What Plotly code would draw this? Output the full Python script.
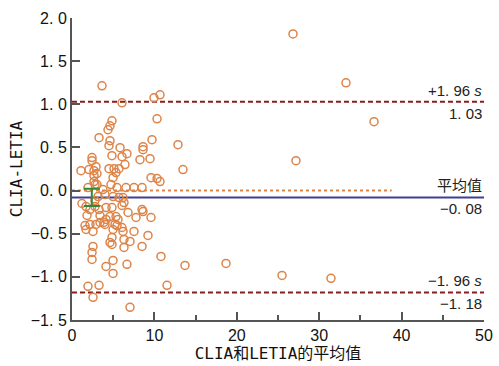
import plotly.graph_objects as go

# Bland-Altman data: mean of the two methods (x) and difference (y)
mean_vals = [3.64, 6.07, 4.85, 4.61, 4.37, 10.32, 3.28, 4.61, 4.49, 5.83,
             4.85, 6.07, 6.67, 8.62, 8.62, 9.71, 8.25, 9.47, 2.43, 2.43,
             1.09, 2.06, 2.67, 2.91, 3.03, 4.49, 5.10, 5.34, 5.70, 6.43,
             2.67, 9.59, 10.32, 12.86, 13.47, 10.68, 9.95, 4.98, 2.67, 2.79,
             10.68, 4.73, 5.46, 6.55, 7.52, 8.50, 3.76, 3.03, 1.94, 3.16,
             2.79, 4.00, 4.98, 5.70, 6.19, 6.07, 6.31, 1.21, 1.70, 2.79,
             3.28, 2.18, 4.13, 4.85, 8.50, 6.80, 8.62, 7.77, 9.59, 1.82,
             3.40, 4.61, 5.34, 5.58, 4.13, 3.88, 3.40, 2.18, 1.58, 1.70,
             2.55, 2.91, 4.00, 5.22, 6.07, 4.98, 5.46, 6.19, 7.52, 9.22,
             4.85, 4.61, 4.85, 6.31, 7.04, 6.31, 8.50, 2.55, 2.43, 2.43,
             4.98, 4.13, 6.67, 4.98, 10.80, 1.94, 3.28, 2.55, 11.53, 7.04,
             13.71, 18.69, 26.82, 33.25, 36.65, 27.18, 25.49, 31.43]
diff_vals = [1.214, 1.017, 0.809, 0.751, 0.705, 0.832, 0.613, 0.578, 0.520, 0.497,
             0.405, 0.393, 0.428, 0.509, 0.474, 0.590, 0.358, 0.370, 0.382, 0.347,
             0.231, 0.243, 0.231, 0.277, 0.197, 0.254, 0.254, 0.208, 0.254, 0.301,
             0.173, 0.150, 0.139, 0.532, 0.243, 1.110, 1.075, 0.150, 0.104, 0.069,
             0.104, 0.069, 0.035, 0.035, 0.035, 0.035, 0.012, 0.069, 0.035, -0.069,
             -0.116, -0.046, -0.069, -0.081, -0.081, -0.173, -0.139, -0.150, -0.185, -0.185,
             -0.220, -0.220, -0.197, -0.197, -0.220, -0.254, -0.243, -0.312, -0.312, -0.289,
             -0.289, -0.301, -0.301, -0.335, -0.335, -0.370, -0.370, -0.393, -0.405, -0.451,
             -0.474, -0.393, -0.393, -0.393, -0.428, -0.451, -0.405, -0.474, -0.474, -0.520,
             -0.543, -0.601, -0.624, -0.566, -0.590, -0.659, -0.647, -0.647, -0.717, -0.798,
             -0.809, -0.879, -0.855, -0.960, -0.763, -1.110, -1.098, -1.237, -1.098, -1.353,
             -0.867, -0.844, 1.815, 1.249, 0.798, 0.347, -0.983, -1.017]

mean_diff = -0.08
upper_loa = 1.03
lower_loa = -1.18
ci_x = 2.4
ci_low = -0.18
ci_high = 0.02
zero_line_end = 38.8

x_tickvals = [0, 10, 20, 30, 40, 50]
x_ticktext = ["0", "10", "20", "30", "40", "50"]
y_tickvals = [2.0, 1.5, 1.0, 0.5, 0.0, -0.5, -1.0, -1.5]
y_ticktext = ["2. 0", "1. 5", "1. 0", "0. 5", "0. 0", "−0. 5", "−1. 0", "−1. 5"]

ORANGE = "#DD8448"
DARKRED = "#8B1C1C"
BLUE = "#3F3F94"
GREEN = "#2E8B3A"
AXIS = "#555555"
FONT = "Liberation Sans, Arial, sans-serif"
TITLE_FONT = "DejaVu Sans Mono, Noto Sans CJK SC, monospace"

fig = go.Figure()

# zero dotted line
fig.add_trace(go.Scatter(x=[0, zero_line_end], y=[0, 0], mode="lines",
                         line=dict(color=ORANGE, width=2, dash="dot"),
                         hoverinfo="skip", showlegend=False))
# limits and mean lines
fig.add_trace(go.Scatter(x=[0, 50], y=[upper_loa, upper_loa], mode="lines",
                         line=dict(color=DARKRED, width=2, dash="5px,3px"), showlegend=False))
fig.add_trace(go.Scatter(x=[0, 50], y=[lower_loa, lower_loa], mode="lines",
                         line=dict(color=DARKRED, width=2, dash="5px,3px"), showlegend=False))
fig.add_trace(go.Scatter(x=[0, 50], y=[mean_diff, mean_diff], mode="lines",
                         line=dict(color=BLUE, width=2), showlegend=False))

# points
fig.add_trace(go.Scatter(x=mean_vals, y=diff_vals, mode="markers",
                         marker=dict(symbol="circle-open", size=8, color=ORANGE,
                                     line=dict(width=1.5, color=ORANGE)),
                         showlegend=False))

# CI of mean difference
ci_mid = (ci_low + ci_high) / 2
fig.add_trace(go.Scatter(x=[ci_x], y=[ci_mid], mode="markers",
                         marker=dict(size=1, color=GREEN, opacity=0),
                         error_y=dict(type="data", symmetric=True,
                                      array=[(ci_high - ci_low) / 2],
                                      color=GREEN, thickness=2, width=8),
                         showlegend=False))

labels = [
    (upper_loa, "+1. 96 <i>s</i>", "bottom"),
    (upper_loa, "1. 03", "top"),
    (mean_diff, "平均值", "bottom"),
    (mean_diff, "−0. 08", "top"),
    (lower_loa, "−1. 96 <i>s</i>", "bottom"),
    (lower_loa, "−1. 18", "top"),
]
for yv, txt, ya in labels:
    fig.add_annotation(x=50, y=yv, xref="x", yref="y", text=txt, showarrow=False,
                       xanchor="right", yanchor=ya, yshift=1 if ya == "bottom" else -1,
                       font=dict(family="Liberation Sans, Noto Sans CJK SC, sans-serif",
                                 size=15, color="#222222"))

fig.update_layout(
    width=499, height=366,
    margin=dict(l=72, r=15, t=18, b=46),
    paper_bgcolor="white", plot_bgcolor="white",
    showlegend=False,
    xaxis=dict(range=[0, 50], tickvals=x_tickvals, ticktext=x_ticktext, automargin=False,
               ticks="inside", ticklen=8, tickwidth=1.5, tickcolor=AXIS,
               minor=dict(tickvals=[5, 15, 25, 35, 45], ticks="inside", ticklen=5,
                          tickwidth=1.5, tickcolor=AXIS),
               showline=True, linecolor=AXIS, linewidth=2, showgrid=False, zeroline=False,
               tickfont=dict(family=FONT, size=16, color="#111111"),
               title=dict(text="CLIA和LETIA的平均值",
                          font=dict(family=TITLE_FONT, size=16, color="#111111"),
                          standoff=4)),
    yaxis=dict(range=[-1.5, 2.0], tickvals=y_tickvals, ticktext=y_ticktext, automargin=False,
               ticks="inside", ticklen=8, tickwidth=1.5, tickcolor=AXIS,
               showline=True, linecolor=AXIS, linewidth=2, showgrid=False, zeroline=False,
               tickfont=dict(family=FONT, size=16, color="#111111"),
               title=dict(text="CLIA-LETIA",
                          font=dict(family=TITLE_FONT, size=16, color="#111111"),
                          standoff=4)),
)

fig.write_html("out.html")
